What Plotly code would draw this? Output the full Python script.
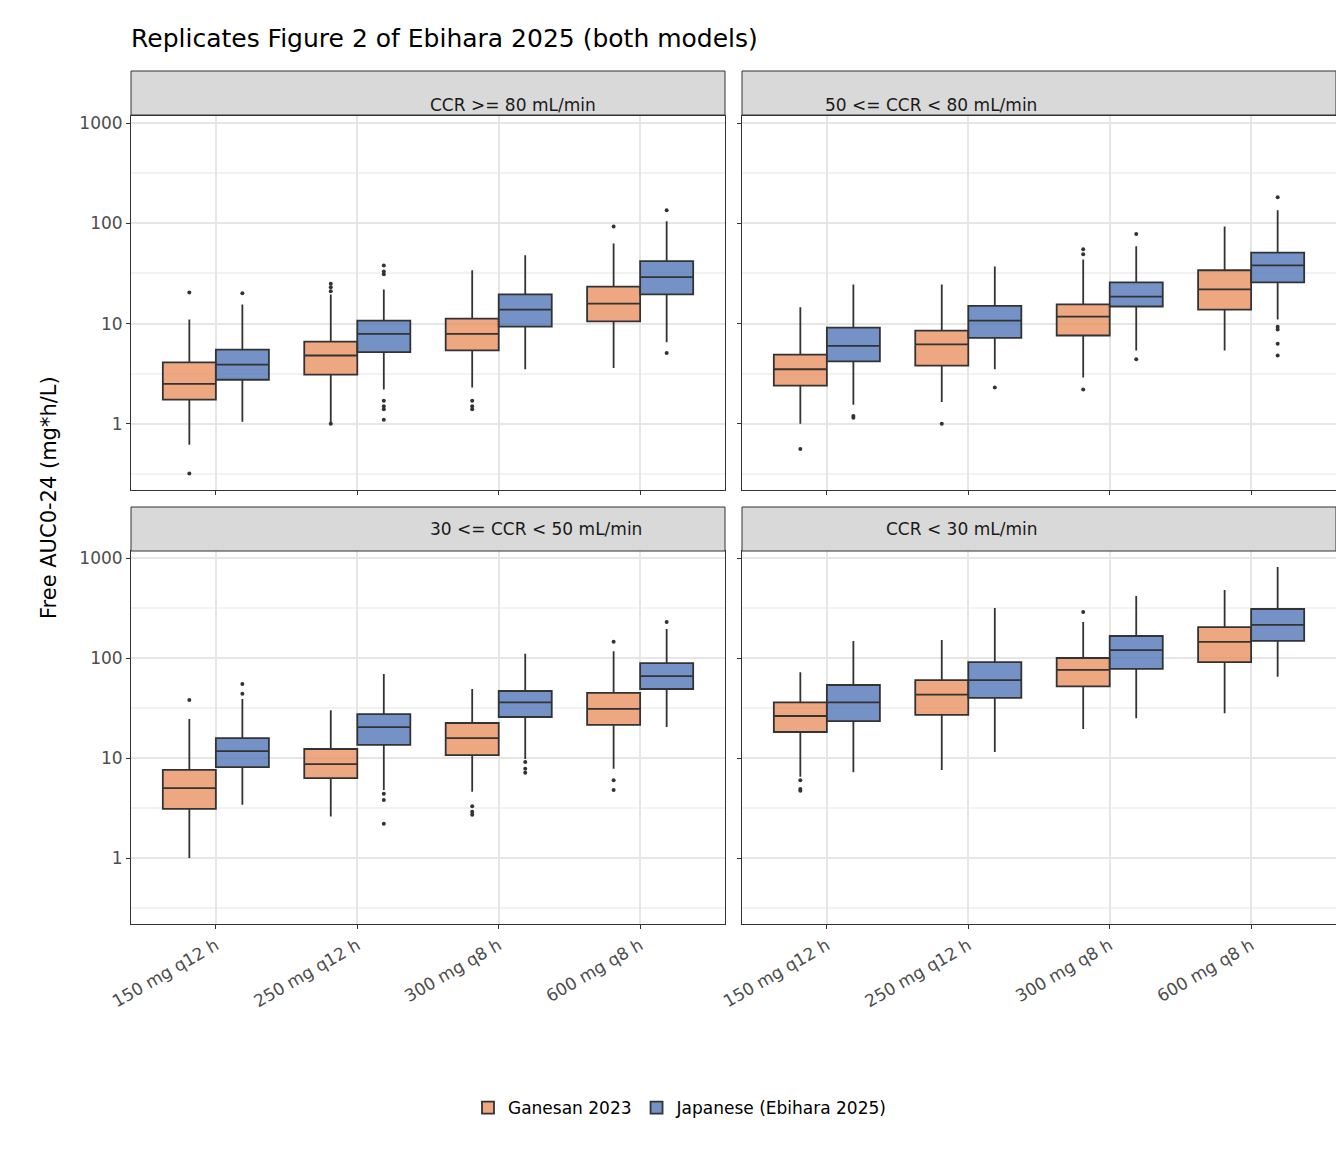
import plotly.graph_objects as go

regimens = ["150 mg q12 h", "250 mg q12 h", "300 mg q8 h", "600 mg q8 h"]
panels = ["CCR >= 80 mL/min", "50 <= CCR < 80 mL/min", "30 <= CCR < 50 mL/min", "CCR < 30 mL/min"]
models = ["Ganesan 2023", "Japanese (Ebihara 2025)"]
fills = ["rgba(232,145,97,0.8)", "rgba(83,119,185,0.8)"]

# per panel, per model: lists over regimens (lower fence, q1, median, q3, upper fence)
stats = {
    (0, 0): dict(lo=[0.62, 1.0, 2.3, 3.6], q1=[1.74, 3.1, 5.4, 10.5], med=[2.5, 4.8, 7.9, 15.8],
                 q3=[4.1, 6.6, 11.2, 23.4], hi=[11, 19.5, 34, 63]),
    (0, 1): dict(lo=[1.05, 2.2, 3.5, 6.5], q1=[2.75, 5.2, 9.3, 19.5], med=[3.9, 7.9, 13.8, 29],
                 q3=[5.5, 10.7, 19.5, 42], hi=[15.5, 21.9, 48, 105]),
    (1, 0): dict(lo=[1.0, 1.65, 2.9, 5.4], q1=[2.4, 3.8, 7.6, 13.8], med=[3.5, 6.2, 11.7, 21.9],
                 q3=[4.9, 8.5, 15.5, 34], hi=[14.5, 24.5, 43.6, 93]),
    (1, 1): dict(lo=[1.55, 3.5, 5.4, 11], q1=[4.2, 7.2, 14.8, 25.7], med=[6, 10.7, 18.6, 38],
                 q3=[9.1, 15, 25.7, 51], hi=[24.5, 37, 59, 135]),
    (2, 0): dict(lo=[1.0, 2.6, 4.6, 7.8], q1=[3.1, 6.3, 10.7, 21.4], med=[5.0, 8.7, 15.8, 31],
                 q3=[7.6, 12.3, 22.4, 44.7], hi=[24.5, 30, 49, 117]),
    (2, 1): dict(lo=[3.4, 4.8, 9.8, 20.4], q1=[8.1, 13.5, 25.7, 49], med=[11.7, 20.4, 36, 66],
                 q3=[15.8, 27.5, 46.8, 89], hi=[39, 69, 110, 195]),
    (3, 0): dict(lo=[6.5, 7.6, 19.5, 28], q1=[18.2, 27, 52, 91], med=[26.3, 43, 76, 145],
                 q3=[36, 60, 100, 204], hi=[72, 151, 229, 479]),
    (3, 1): dict(lo=[7.2, 11.5, 25, 65], q1=[23.4, 40, 78, 148], med=[36, 60, 120, 214],
                 q3=[53.7, 91, 166, 309], hi=[148, 316, 417, 813]),
}

# outliers: (regimen index, value)
outliers = {
    (0, 0): [(0, 20.4), (0, 0.32), (1, 25), (1, 23), (1, 21), (1, 1.0), (2, 1.7), (2, 1.5), (2, 1.4), (3, 93)],
    (0, 1): [(0, 20), (1, 38), (1, 33), (1, 31), (1, 1.7), (1, 1.5), (1, 1.4), (1, 1.1), (3, 135), (3, 5.1)],
    (1, 0): [(0, 0.56), (1, 1.0), (2, 55), (2, 49), (2, 2.2)],
    (1, 1): [(0, 1.2), (0, 1.15), (1, 2.3), (2, 78), (2, 4.4), (3, 182), (3, 9.3), (3, 8.7), (3, 6.3), (3, 4.8)],
    (2, 0): [(0, 38), (2, 3.3), (2, 2.9), (2, 2.7), (3, 145), (3, 6.0), (3, 4.8)],
    (2, 1): [(0, 55), (0, 44), (1, 4.4), (1, 3.8), (1, 2.2), (2, 9.1), (2, 7.8), (2, 7.1), (3, 229)],
    (3, 0): [(0, 6.0), (0, 4.9), (0, 4.7), (2, 288)],
    (3, 1): [],
}

W = 1344
H = 1152
xdom = [[123 / W, 717 / W], [734 / W, 1328 / W]]
ydom = [[1 - 482 / H, 1 - 108 / H], [1 - 916 / H, 1 - 543 / H]]
strip = [[1 - 107 / H, 1 - 63 / H], [1 - 543 / H, 1 - 499 / H]]
offs = [-0.1875, 0.1875]

fig = go.Figure()
for p in range(4):
    r, c = divmod(p, 2)
    n = p + 1
    xa = "x" if n == 1 else f"x{n}"
    ya = "y" if n == 1 else f"y{n}"
    for m in range(2):
        s = stats[(p, m)]
        xs = [i + offs[m] for i in range(4)]
        fig.add_trace(go.Box(
            x=xs, lowerfence=s["lo"], q1=s["q1"], median=s["med"], q3=s["q3"], upperfence=s["hi"],
            width=0.375, fillcolor=fills[m], line=dict(color="#333333", width=1.8),
            name=models[m], legendgroup=models[m], showlegend=(p == 0),
            boxpoints=False, xaxis=xa, yaxis=ya, whiskerwidth=0))
        pts = outliers[(p, m)]
        if pts:
            fig.add_trace(go.Scatter(
                x=[i + offs[m] for i, v in pts], y=[v for i, v in pts], mode="markers",
                marker=dict(color="#333333", size=4), showlegend=False, hoverinfo="y",
                xaxis=xa, yaxis=ya))
    axis_common = dict(showline=True, linecolor="#333333", linewidth=1, mirror=True,
                       gridcolor="#e6e6e6", gridwidth=1.5, zeroline=False, automargin=False)
    fig.layout[f"xaxis{'' if n == 1 else n}"] = dict(
        domain=xdom[c], anchor=ya, range=[-0.6, 3.6], tickvals=list(range(4)), ticktext=regimens,
        tickangle=-30, showticklabels=(r == 1), ticks="outside", ticklen=4, tickcolor="#333333",
        tickfont=dict(size=17, color="#4d4d4d"), **axis_common)
    fig.layout[f"yaxis{'' if n == 1 else n}"] = dict(
        domain=ydom[r], anchor=xa, type="log", range=[-0.66, 3.07],
        tickvals=[1, 10, 100, 1000], ticktext=["1", "10", "100", "1000"],
        showticklabels=(c == 0), ticks="outside", ticklen=4, tickcolor="#333333",
        tickfont=dict(size=17, color="#4d4d4d"),
        minor=dict(tickvals=[0.316, 3.16, 31.6, 316], showgrid=True, gridcolor="#f2f2f2", ticks=""),
        **axis_common)
    fig.add_shape(type="rect", xref="paper", yref="paper", x0=xdom[c][0], x1=xdom[c][1],
                  y0=strip[r][0], y1=strip[r][1], fillcolor="#d9d9d9",
                  line=dict(color="#333333", width=1))
    fig.add_annotation(text=panels[p], xref="paper", yref="paper", x=sum(xdom[c]) / 2,
                       y=sum(strip[r]) / 2, showarrow=False, font=dict(size=17, color="#1a1a1a"))

fig.add_annotation(text="Free AUC0-24 (mg*h/L)", xref="paper", yref="paper", x=27 / W,
                   y=1 - 490 / H, textangle=-90, showarrow=False, font=dict(size=21, color="black"))

fig.update_layout(
    width=W, height=H, margin=dict(l=0, r=0, t=0, b=0, autoexpand=False),
    plot_bgcolor="white", paper_bgcolor="white",
    font=dict(family="DejaVu Sans"),
    title=dict(text="Replicates Figure 2 of Ebihara 2025 (both models)", x=123 / W, y=1 - 30 / H,
               xanchor="left", yanchor="middle", font=dict(size=25, color="black")),
    legend=dict(orientation="h", x=0.5, xanchor="center", y=1 - 1100 / H, yanchor="middle",
                font=dict(size=17, color="black")),
)

fig.write_html("out.html")
